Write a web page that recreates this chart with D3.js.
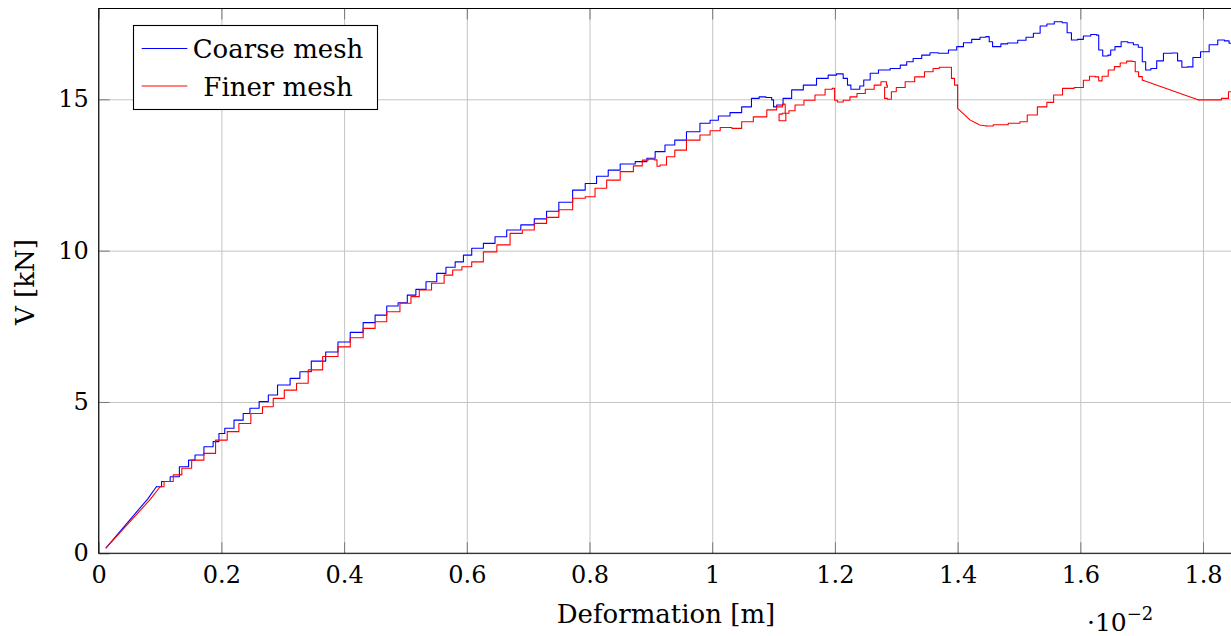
<!DOCTYPE html>
<html>
<head>
<meta charset="utf-8">
<script src="https://cdn.jsdelivr.net/npm/d3@7"></script>
<style>
  html, body { margin: 0; padding: 0; background: #fff; }
  svg { display: block; }
  text { font-family: "DejaVu Serif", "Liberation Serif", serif; fill: #000; }
</style>
</head>
<body>
<svg id="chart" width="1231" height="636"></svg>
<script>
// ---------- data (x in units of 1e-2 m, V in kN) ----------
const xTicks = [0, 0.2, 0.4, 0.6, 0.8, 1, 1.2, 1.4, 1.6, 1.8];
const xTickLabels = ["0", "0.2", "0.4", "0.6", "0.8", "1", "1.2", "1.4", "1.6", "1.8"];
const yTicks = [0, 5, 10, 15];
const yTickLabels = ["0", "5", "10", "15"];
const seriesNames = ["Coarse mesh", "Finer mesh"];

const coarseMesh = [
  [0.012,0.18],[0.08,1.8],[0.094,2.2],[0.111,2.37],[0.122,2.53],[0.141,2.86],[0.152,3.08],[0.162,3.25],
  [0.181,3.52],[0.192,3.69],[0.2,3.96],[0.211,4.13],[0.23,4.40],[0.241,4.62],[0.252,4.79],[0.271,5.01],
  [0.282,5.23],[0.301,5.56],[0.323,5.78],[0.333,6.0],[0.36,6.35],[0.38,6.65],[0.4,6.98],[0.42,7.3],
  [0.442,7.62],[0.459,7.87],[0.48,8.17],[0.496,8.28],[0.51,8.53],[0.524,8.72],[0.543,8.97],[0.559,9.25],
  [0.573,9.45],[0.589,9.63],[0.6,9.85],[0.616,10.08],[0.638,10.24],[0.654,10.46],[0.676,10.68],[0.70,10.85],
  [0.72,11.05],[0.74,11.3],[0.76,11.6],[0.785,12.0],[0.801,12.22],[0.822,12.46],[0.839,12.66],[0.861,12.86],
  [0.888,12.94],[0.899,13.05],[0.915,13.27],[0.931,13.49],[0.947,13.65],[0.969,13.93],[0.991,14.21],[1.002,14.31],
  [1.018,14.45],[1.04,14.56],[1.056,14.75],[1.072,15.03],[1.081,15.08],[1.094,15.06],[1.10,14.98],[1.10,14.75],
  [1.11,14.81],[1.121,15.03],[1.138,15.31],[1.159,15.47],[1.181,15.69],[1.197,15.80],[1.208,15.84],[1.219,15.69],
  [1.222,15.47],[1.23,15.33],[1.239,15.33],[1.242,15.44],[1.252,15.64],[1.263,15.86],[1.279,15.97],[1.301,16.02],
  [1.312,16.13],[1.322,16.24],[1.333,16.35],[1.35,16.46],[1.36,16.54],[1.377,16.52],[1.393,16.63],[1.404,16.74],
  [1.415,16.87],[1.431,16.98],[1.442,17.05],[1.45,17.07],[1.453,16.90],[1.461,16.74],[1.469,16.74],[1.472,16.83],
  [1.491,16.86],[1.505,16.95],[1.518,17.05],[1.529,17.18],[1.54,17.42],[1.551,17.49],[1.564,17.56],[1.577,17.53],
  [1.58,17.20],[1.591,16.96],[1.6,16.98],[1.61,17.09],[1.624,17.14],[1.629,17.12],[1.631,16.63],[1.642,16.43],
  [1.648,16.46],[1.651,16.63],[1.662,16.74],[1.671,16.90],[1.684,16.87],[1.689,16.80],[1.70,16.72],[1.702,16.24],
  [1.711,15.97],[1.719,16.02],[1.73,16.27],[1.741,16.52],[1.757,16.53],[1.76,16.27],[1.771,16.06],[1.778,16.07],
  [1.789,16.38],[1.803,16.57],[1.817,16.80],[1.831,16.96],[1.839,16.93],[1.846,16.85],[1.86,16.7]
];

const finerMesh = [
  [0.012,0.18],[0.084,1.78],[0.1,2.2],[0.113,2.37],[0.13,2.59],[0.141,2.81],[0.162,3.08],[0.181,3.30],
  [0.2,3.74],[0.219,4.02],[0.238,4.29],[0.258,4.62],[0.276,4.84],[0.293,5.12],[0.312,5.39],[0.333,5.62],
  [0.35,6.06],[0.38,6.5],[0.4,6.82],[0.42,7.12],[0.442,7.43],[0.459,7.65],[0.48,7.98],[0.502,8.26],
  [0.516,8.48],[0.529,8.70],[0.556,8.92],[0.57,9.19],[0.584,9.36],[0.6,9.47],[0.616,9.63],[0.638,9.96],
  [0.66,10.19],[0.681,10.57],[0.70,10.68],[0.72,10.9],[0.74,11.1],[0.76,11.35],[0.785,11.73],[0.801,11.78],
  [0.817,12.06],[0.839,12.33],[0.861,12.61],[0.882,12.80],[0.89,12.99],[0.901,13.02],[0.91,13.0],[0.91,12.79],
  [0.92,12.83],[0.931,13.10],[0.947,13.32],[0.969,13.65],[0.991,13.82],[1.002,13.96],[1.024,14.07],[1.04,14.04],
  [1.056,14.26],[1.078,14.42],[1.1,14.65],[1.11,14.75],[1.119,14.84],[1.119,14.54],[1.109,14.51],[1.109,14.29],
  [1.12,14.29],[1.12,14.54],[1.13,14.62],[1.14,14.81],[1.159,14.97],[1.176,15.14],[1.192,15.33],[1.199,15.36],
  [1.2,14.97],[1.208,14.91],[1.219,14.97],[1.23,15.08],[1.242,15.19],[1.257,15.33],[1.271,15.47],[1.279,15.58],
  [1.289,15.47],[1.282,15.40],[1.28,15.03],[1.291,15.0],[1.293,15.25],[1.307,15.39],[1.322,15.58],[1.338,15.74],
  [1.354,15.91],[1.366,16.02],[1.374,16.06],[1.39,16.06],[1.39,15.69],[1.4,15.47],[1.4,14.70],[1.42,14.32],
  [1.436,14.15],[1.447,14.12],[1.469,14.16],[1.496,14.21],[1.507,14.26],[1.52,14.48],[1.54,14.75],[1.551,14.9],
  [1.562,15.14],[1.58,15.36],[1.6,15.39],[1.61,15.63],[1.62,15.76],[1.629,15.74],[1.631,15.61],[1.64,15.76],
  [1.651,15.97],[1.66,16.08],[1.67,16.2],[1.681,16.26],[1.689,16.25],[1.69,15.91],[1.70,15.75],[1.702,15.63],
  [1.793,14.98],[1.828,14.98],[1.832,15.03],[1.841,15.03],[1.842,15.25],[1.86,15.25]
];

// x-intervals where the curve is smooth (no load-step staircase)
const coarseSmooth = [[0.012, 0.094]];
const finerSmooth = [[0.012, 0.1], [1.4, 1.447], [1.702, 1.793]];

// ---------- layout ----------
const svg = d3.select("#chart");
const pL = 98.7, pR = 1233.7, pT = 8.5, pB = 553.3;
const x = d3.scaleLinear().domain([0, 1.85]).range([pL, pR]);
const y = d3.scaleLinear().domain([0, 18]).range([pB, pT]);
const FS = 26, TFS = 24;

svg.append("rect").attr("width", 1231).attr("height", 636).attr("fill", "#fff");

// grid
const gx = svg.append("g").attr("transform", `translate(0,${pB})`)
  .call(d3.axisBottom(x).tickValues(xTicks).tickSize(-(pB - pT)).tickFormat(""));
gx.select(".domain").remove();
gx.selectAll("line").attr("stroke", "#c4c4c4").attr("stroke-width", 1);
const gy = svg.append("g").attr("transform", `translate(${pL},0)`)
  .call(d3.axisLeft(y).tickValues(yTicks).tickSize(-(pR - pL)).tickFormat(""));
gy.select(".domain").remove();
gy.selectAll("line").attr("stroke", "#c4c4c4").attr("stroke-width", 1);

// ticks + labels
const axB = svg.append("g").attr("transform", `translate(0,${pB})`)
  .call(d3.axisBottom(x).tickValues(xTicks).tickSizeInner(-11).tickSizeOuter(0).tickPadding(13)
    .tickFormat((d, i) => xTickLabels[i]));
const axT = svg.append("g").attr("transform", `translate(0,${pT})`)
  .call(d3.axisTop(x).tickValues(xTicks).tickSizeInner(-11).tickSizeOuter(0).tickFormat(""));
const axL = svg.append("g").attr("transform", `translate(${pL},0)`)
  .call(d3.axisLeft(y).tickValues(yTicks).tickSizeInner(-11).tickSizeOuter(0).tickPadding(10)
    .tickFormat((d, i) => yTickLabels[i]));
[axB, axT, axL].forEach(g => {
  g.select(".domain").remove();
  g.selectAll(".tick line").attr("stroke", "#7a7a7a").attr("stroke-width", 1);
  g.selectAll("text").attr("font-family", "DejaVu Serif").attr("font-size", TFS).attr("fill", "#000");
});

// curves: split each series into runs, stepped or smooth
function runs(data, smooth) {
  const isSmooth = (a, b) => smooth.some(([s, e]) => a[0] >= s - 1e-9 && b[0] <= e + 1e-9);
  const out = [];
  for (let i = 0; i < data.length - 1; i++) {
    const s = isSmooth(data[i], data[i + 1]);
    const last = out[out.length - 1];
    if (last && last.smooth === s) last.pts.push(data[i + 1]);
    else out.push({ smooth: s, pts: [data[i], data[i + 1]] });
  }
  return out;
}
svg.append("clipPath").attr("id", "clip").append("rect")
  .attr("x", pL).attr("y", pT).attr("width", pR - pL).attr("height", pB - pT);
const lineSmooth = d3.line().x(d => x(d[0])).y(d => y(d[1])).curve(d3.curveLinear);
const lineStep = d3.line().x(d => x(d[0])).y(d => y(d[1])).curve(d3.curveStep);
const plot = svg.append("g").attr("clip-path", "url(#clip)");
[[coarseMesh, coarseSmooth, "#0000ff"], [finerMesh, finerSmooth, "#ff0000"]].forEach(([data, sm, col]) => {
  const g = plot.append("g");
  runs(data, sm).forEach(r => {
    g.append("path").attr("d", (r.smooth ? lineSmooth : lineStep)(r.pts))
      .attr("fill", "none").attr("stroke", col).attr("stroke-width", 1.1)
      .attr("stroke-linejoin", "round").attr("stroke-linecap", "round");
  });
});

// frame
svg.append("path")
  .attr("d", `M${pR},${pT}H${pL}V${pB}H${pR}`)
  .attr("fill", "none").attr("stroke", "#000").attr("stroke-width", 1.1);

// axis labels
svg.append("text").attr("x", 666).attr("y", 623)
  .attr("text-anchor", "middle").attr("font-size", FS).text("Deformation [m]");
svg.append("text").attr("transform", "translate(34,282) rotate(-90)")
  .attr("text-anchor", "middle").attr("font-size", FS).text("V [kN]");
const sc = svg.append("text").attr("x", 1087).attr("y", 631).attr("font-size", TFS + 1);
sc.append("tspan").text("·10");
sc.append("tspan").attr("dy", -11).attr("font-size", 18).text("−2");

// legend
const lg = svg.append("g");
lg.append("rect").attr("x", 133.5).attr("y", 25.5).attr("width", 244).attr("height", 84)
  .attr("fill", "#fff").attr("stroke", "#000").attr("stroke-width", 1.1);
const legendColors = ["#0000ff", "#ff0000"];
const legendY = [48.5, 86];
seriesNames.forEach((name, i) => {
  lg.append("line").attr("x1", 141.7).attr("x2", 187.3).attr("y1", legendY[i]).attr("y2", legendY[i])
    .attr("stroke", legendColors[i]).attr("stroke-width", 1.1);
  lg.append("text").attr("x", 278).attr("y", legendY[i] + 9.5).attr("text-anchor", "middle")
    .attr("font-size", FS).text(name);
});
</script>
</body>
</html>
